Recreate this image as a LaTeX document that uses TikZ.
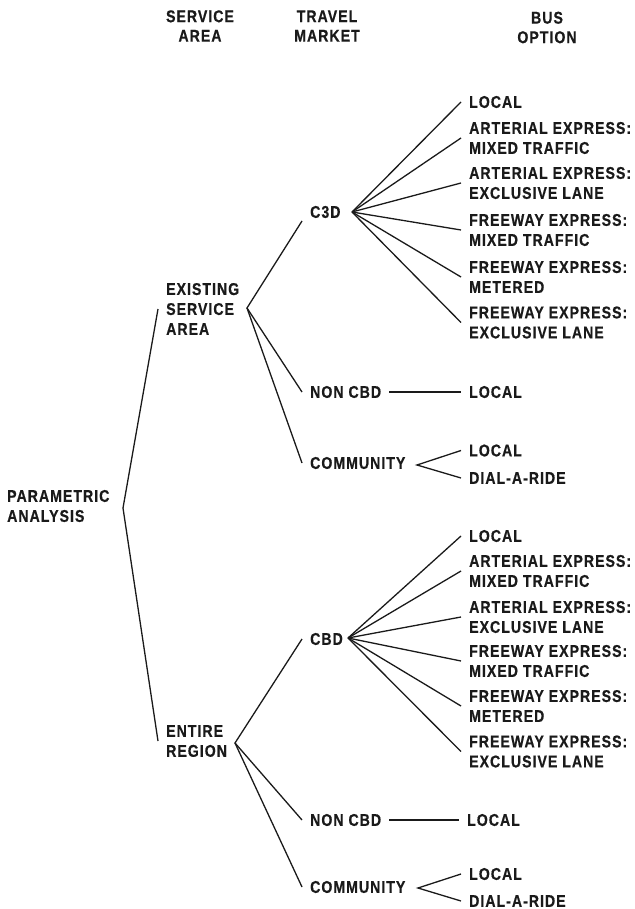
\documentclass[tikz,border=0pt]{standalone}
\usepackage{fontspec}
\setmainfont{Liberation Sans}[FakeStretch=0.83, LetterSpace=6, BoldFeatures={FakeBold=0.6}]
\definecolor{ink}{HTML}{1A1A1A}
\begin{document}
\begin{tikzpicture}[x=1pt,y=-1pt,
  lbl/.style={font=\bfseries\fontsize{17}{20}\selectfont, text=ink, inner xsep=8pt, inner ysep=1pt, align=left, anchor=west},
  opt/.style={lbl, inner xsep=8pt},
  hdr/.style={font=\bfseries\fontsize{17}{19.5}\selectfont, text=ink, inner sep=0pt, align=center, anchor=center},
  conn/.style={draw=ink, line width=1.3pt}]
\useasboundingbox (0,0) rectangle (634,909);
% headers
\node[hdr] (h1) at (200,26) {SERVICE\\AREA};
\node[hdr] (h2) at (327,26) {TRAVEL\\MARKET};
\node[hdr] (h3) at (547,27.5) {BUS\\OPTION};
% root and first level
\node[lbl] (pa) at (-1,506) {PARAMETRIC\\ANALYSIS};
\node[lbl] (esa) at (158,309) {EXISTING\\SERVICE\\AREA};
\node[lbl] (er) at (158,741) {ENTIRE\\REGION};
\coordinate (vpa) at (123,508);
\coordinate (vesa) at (247,308);
\coordinate (ver) at (235,743);
% upper travel markets
\node[lbl] (cbda) at (302,212) {C3D};
\node[lbl] (ncbda) at (302,392) {NON CBD};
\node[lbl] (coma) at (302,463) {COMMUNITY};
\coordinate (vcbda) at (352,212);
\coordinate (vcoma) at (417,465);
% upper options
\node[opt] (a1) at (461,102) {LOCAL};
\node[opt] (a2) at (461,138) {ARTERIAL EXPRESS:\\MIXED TRAFFIC};
\node[opt] (a3) at (461,183) {ARTERIAL EXPRESS:\\EXCLUSIVE LANE};
\node[opt] (a4) at (461,230) {FREEWAY EXPRESS:\\MIXED TRAFFIC};
\node[opt] (a5) at (461,277) {FREEWAY EXPRESS:\\METERED};
\node[opt] (a6) at (461,322.5) {FREEWAY EXPRESS:\\EXCLUSIVE LANE};
\node[opt] (a7) at (461,392) {LOCAL};
\node[opt] (a8) at (461,450.5) {LOCAL};
\node[opt] (a9) at (461,478) {DIAL-A-RIDE};
% lower travel markets
\node[lbl] (cbdb) at (302,639) {CBD};
\node[lbl] (ncbdb) at (302,820) {NON CBD};
\node[lbl] (comb) at (302,887) {COMMUNITY};
\coordinate (vcbdb) at (348,638);
\coordinate (vcomb) at (418,888);
% lower options
\node[opt] (b1) at (461,536) {LOCAL};
\node[opt] (b2) at (461,571) {ARTERIAL EXPRESS:\\MIXED TRAFFIC};
\node[opt] (b3) at (461,617) {ARTERIAL EXPRESS:\\EXCLUSIVE LANE};
\node[opt] (b4) at (461,661) {FREEWAY EXPRESS:\\MIXED TRAFFIC};
\node[opt] (b5) at (461,706) {FREEWAY EXPRESS:\\METERED};
\node[opt] (b6) at (461,751.5) {FREEWAY EXPRESS:\\EXCLUSIVE LANE};
\node[opt] (b7) at (459,820) {LOCAL};
\node[opt] (b8) at (461,874) {LOCAL};
\node[opt] (b9) at (461,901) {DIAL-A-RIDE};
% connectors
\draw[conn] (esa.west) -- (vpa) -- (er.west);
\draw[conn] ([yshift=-9pt]cbda.west) -- (vesa) -- (ncbda.west);
\draw[conn] (vesa) -- (coma.west);
\draw[conn] (cbdb.west) -- (ver) -- (ncbdb.west);
\draw[conn] (ver) -- (comb.west);
\foreach \n in {a1,a2,a3,a4,a5,a6} \draw[conn] (vcbda) -- (\n.west);
\foreach \n in {b1,b2,b3,b4,b5,b6} \draw[conn] (vcbdb) -- (\n.west);
\draw[conn] (ncbda.east) -- (a7.west);
\draw[conn] (ncbdb.east) -- (b7.west);
\draw[conn] (a8.west) -- (vcoma) -- (a9.west);
\draw[conn] (b8.west) -- (vcomb) -- (b9.west);
\end{tikzpicture}
\end{document}
